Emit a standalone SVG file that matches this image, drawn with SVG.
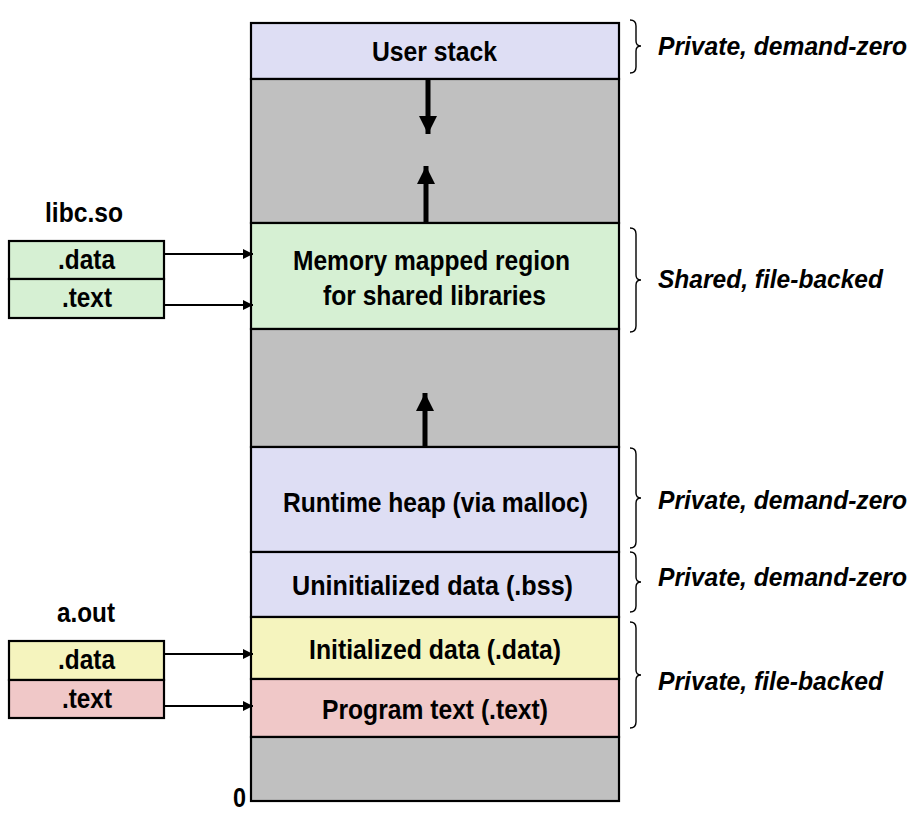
<svg xmlns="http://www.w3.org/2000/svg" width="921" height="819" viewBox="0 0 921 819">
  <style>
    .seg { stroke: #000; stroke-width: 2.2; }
    .lav { fill: #DEDEF4; }
    .grn { fill: #D6F0D3; }
    .gry { fill: #C0C0C0; }
    .yel { fill: #F5F4BE; }
    .pnk { fill: #F0C8C8; }
    .lbl { font-family: "Liberation Sans", Arial, sans-serif; font-weight: bold; font-size: 28px; fill: #000; }
    .sm { font-size: 27px; }
    .note { font-family: "Liberation Sans", Arial, sans-serif; font-weight: bold; font-style: italic; font-size: 25.5px; fill: #000; }
    .brace { fill: none; stroke: #000; stroke-width: 1.4; }
    .conn { stroke: #000; stroke-width: 2; fill: none; }
    .growth { stroke: #000; stroke-width: 5; fill: none; }
  </style>
  <defs>
    <marker id="tri" viewBox="0 0 10 10" refX="10" refY="5" markerWidth="11" markerHeight="10" markerUnits="userSpaceOnUse" orient="auto">
      <path d="M0,0 L10,5 L0,10 Z" fill="#000"/>
    </marker>
    <marker id="bigTri" viewBox="0 0 10 10" refX="10" refY="5" markerWidth="18" markerHeight="18" markerUnits="userSpaceOnUse" orient="auto">
      <path d="M0,0 L10,5 L0,10 Z" fill="#000"/>
    </marker>
  </defs>

  <!-- address-space column, top to bottom -->
  <g id="user-stack">
    <rect class="seg lav" x="251" y="23" width="368" height="56"/>
    <text class="lbl" x="372" y="61" textLength="125" lengthAdjust="spacingAndGlyphs">User stack</text>
  </g>
  <g id="gap-upper">
    <rect class="seg gry" x="251" y="79" width="368" height="144"/>
  </g>
  <g id="mmap-region">
    <rect class="seg grn" x="251" y="223" width="368" height="106"/>
    <text class="lbl" x="293" y="270" textLength="277" lengthAdjust="spacingAndGlyphs">Memory mapped region</text>
    <text class="lbl" x="323" y="305" textLength="223" lengthAdjust="spacingAndGlyphs">for shared libraries</text>
  </g>
  <g id="gap-lower">
    <rect class="seg gry" x="251" y="329" width="368" height="118"/>
  </g>
  <g id="heap">
    <rect class="seg lav" x="251" y="447" width="368" height="105"/>
    <text class="lbl" x="283" y="512" textLength="305" lengthAdjust="spacingAndGlyphs">Runtime heap (via malloc)</text>
  </g>
  <g id="bss">
    <rect class="seg lav" x="251" y="552" width="368" height="65"/>
    <text class="lbl" x="292" y="595" textLength="281" lengthAdjust="spacingAndGlyphs">Uninitialized data (.bss)</text>
  </g>
  <g id="data">
    <rect class="seg yel" x="251" y="617" width="368" height="62"/>
    <text class="lbl" x="309" y="659" textLength="252" lengthAdjust="spacingAndGlyphs">Initialized data (.data)</text>
  </g>
  <g id="text-seg">
    <rect class="seg pnk" x="251" y="679" width="368" height="58"/>
    <text class="lbl" x="322" y="719" textLength="226" lengthAdjust="spacingAndGlyphs">Program text (.text)</text>
  </g>
  <g id="gap-bottom">
    <rect class="seg gry" x="251" y="737" width="368" height="64"/>
  </g>
  <g id="addr-zero">
    <text class="lbl" x="233" y="807" textLength="13" lengthAdjust="spacingAndGlyphs">0</text>
  </g>

  <!-- libc.so object file -->
  <g id="libc-so">
    <text class="lbl sm" x="45" y="222" textLength="78" lengthAdjust="spacingAndGlyphs">libc.so</text>
    <rect class="seg grn" x="9" y="241" width="155" height="38"/>
    <rect class="seg grn" x="9" y="279" width="155" height="39"/>
    <text class="lbl sm" x="58" y="269" textLength="57" lengthAdjust="spacingAndGlyphs">.data</text>
    <text class="lbl sm" x="62" y="307" textLength="50" lengthAdjust="spacingAndGlyphs">.text</text>
  </g>

  <!-- a.out executable -->
  <g id="a-out">
    <text class="lbl sm" x="57" y="622" textLength="58" lengthAdjust="spacingAndGlyphs">a.out</text>
    <rect class="seg yel" x="9" y="641" width="155" height="39"/>
    <rect class="seg pnk" x="9" y="680" width="155" height="38"/>
    <text class="lbl sm" x="58" y="669" textLength="57" lengthAdjust="spacingAndGlyphs">.data</text>
    <text class="lbl sm" x="62" y="708" textLength="50" lengthAdjust="spacingAndGlyphs">.text</text>
  </g>

  <!-- region attribute notes -->
  <g id="note-stack">
    <path class="brace" d="M630,20 Q636,20 636,26 L636,41 Q636,46 641,46 Q636,46 636,51 L636,67 Q636,73 630,73"/>
    <text class="note" x="658" y="55" textLength="249" lengthAdjust="spacingAndGlyphs">Private, demand-zero</text>
  </g>
  <g id="note-mmap">
    <path class="brace" d="M630,228 Q636,228 636,234 L636,275 Q636,280 641,280 Q636,280 636,285 L636,326 Q636,332 630,332"/>
    <text class="note" x="658" y="288" textLength="225" lengthAdjust="spacingAndGlyphs">Shared, file-backed</text>
  </g>
  <g id="note-heap">
    <path class="brace" d="M630,448 Q636,448 636,454 L636,493 Q636,498 641,498 Q636,498 636,503 L636,542 Q636,548 630,548"/>
    <text class="note" x="658" y="509" textLength="249" lengthAdjust="spacingAndGlyphs">Private, demand-zero</text>
  </g>
  <g id="note-bss">
    <path class="brace" d="M630,552 Q636,552 636,558 L636,577 Q636,582 641,582 Q636,582 636,587 L636,606 Q636,612 630,612"/>
    <text class="note" x="658" y="586" textLength="249" lengthAdjust="spacingAndGlyphs">Private, demand-zero</text>
  </g>
  <g id="note-exec">
    <path class="brace" d="M630,622 Q636,622 636,628 L636,670 Q636,675 641,675 Q636,675 636,680 L636,722 Q636,728 630,728"/>
    <text class="note" x="658" y="690" textLength="225" lengthAdjust="spacingAndGlyphs">Private, file-backed</text>
  </g>

  <!-- connectors -->
  <g id="connectors">
    <line class="conn" x1="164" y1="254" x2="253" y2="254" marker-end="url(#tri)"/>
    <line class="conn" x1="164" y1="305" x2="253" y2="305" marker-end="url(#tri)"/>
    <line class="conn" x1="164" y1="654" x2="253" y2="654" marker-end="url(#tri)"/>
    <line class="conn" x1="164" y1="706" x2="253" y2="706" marker-end="url(#tri)"/>
    <line class="growth" x1="428" y1="79" x2="428" y2="134" marker-end="url(#bigTri)"/>
    <line class="growth" x1="426" y1="222" x2="426" y2="166" marker-end="url(#bigTri)"/>
    <line class="growth" x1="425" y1="447" x2="425" y2="393" marker-end="url(#bigTri)"/>
  </g>
</svg>
